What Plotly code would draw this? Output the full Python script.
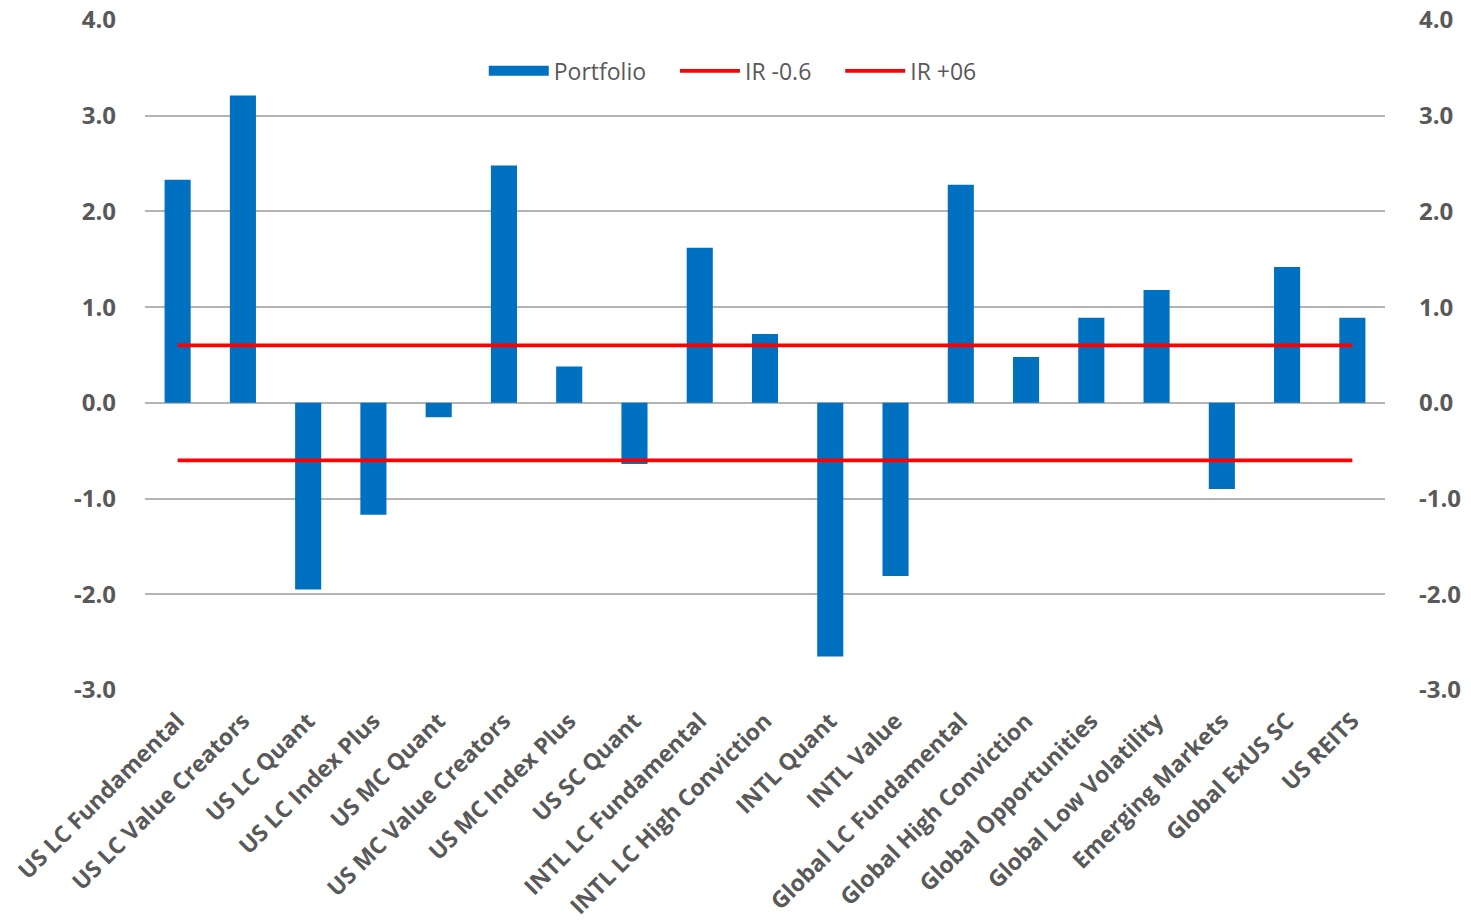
import plotly.graph_objects as go

categories = ["US LC Fundamental", "US LC Value Creators", "US LC Quant", "US LC Index Plus",
              "US MC Quant", "US MC Value Creators", "US MC Index Plus", "US SC Quant",
              "INTL LC Fundamental", "INTL LC High Conviction", "INTL Quant", "INTL Value",
              "Global LC Fundamental", "Global High Conviction", "Global Opportunities",
              "Global Low Volatility", "Emerging Markets", "Global ExUS SC", "US REITS"]
portfolio = [2.33, 3.21, -1.95, -1.17, -0.15, 2.48, 0.38, -0.64, 1.62, 0.72,
             -2.65, -1.81, 2.28, 0.48, 0.89, 1.18, -0.90, 1.42, 0.89]
ir_neg = -0.6
ir_pos = 0.6
tick_vals = [-3, -2, -1, 0, 1, 2, 3, 4]
tick_text = ["-3.0", "-2.0", "-1.0", "0.0", "1.0", "2.0", "3.0", "4.0"]

FONT = "Open Sans"
GRAY = "#595959"
BLUE = "#0070C0"
PAD = "\u00a0" * 4  # spacing between legend entries

fig = go.Figure()
fig.add_trace(go.Bar(x=categories, y=portfolio, name="Portfolio", showlegend=False,
                     legendgroup="p", marker=dict(color=BLUE, line=dict(width=0))))
# legend swatch for Portfolio (wide rectangle like the original)
fig.add_trace(go.Scatter(x=[None], y=[None], mode="lines", name="Portfolio" + PAD,
                         legendgroup="p", line=dict(color=BLUE, width=17)))
fig.add_trace(go.Scatter(x=[categories[0], categories[-1]], y=[ir_neg, ir_neg],
                         mode="lines", name="IR -0.6" + PAD,
                         line=dict(color="#FF0000", width=3.8)))
fig.add_trace(go.Scatter(x=[categories[0], categories[-1]], y=[ir_pos, ir_pos],
                         mode="lines", name="IR +06", line=dict(color="#FF0000", width=3.8)))
# invisible trace to activate right axis
fig.add_trace(go.Scatter(x=[categories[0]], y=[0], yaxis="y2", showlegend=False,
                         mode="markers", marker=dict(opacity=0), hoverinfo="skip"))

fig.update_layout(
    width=1471, height=923,
    margin=dict(l=145, r=86, t=20, b=233),
    plot_bgcolor="white", paper_bgcolor="white",
    bargap=0.6,
    font=dict(family=FONT, color=GRAY),
    showlegend=True,
    legend=dict(orientation="h", x=0.474, xanchor="center", y=0.924, yanchor="middle",
                font=dict(size=23, color=GRAY, family=FONT), bgcolor="rgba(0,0,0,0)",
                traceorder="normal", itemwidth=60),
    xaxis=dict(range=[-0.5, 18.5], automargin=False, tickangle=-45,
               tickfont=dict(size=23, color=GRAY, family=FONT, weight="bold"),
               showgrid=False, showline=False, ticks="", zeroline=False,
               ticklabelstandoff=12),
    yaxis=dict(range=[-3, 4], automargin=False, tickvals=tick_vals, ticktext=tick_text,
               tickfont=dict(size=24, color=GRAY, family=FONT, weight="bold"),
               showgrid=True, gridcolor="#B4B4B4", gridwidth=2,
               zeroline=True, zerolinecolor="#B4B4B4", zerolinewidth=2,
               showline=False, ticks="", ticklabelstandoff=28),
    yaxis2=dict(range=[-3, 4], automargin=False, tickvals=tick_vals, ticktext=tick_text,
                overlaying="y", side="right",
                tickfont=dict(size=24, color=GRAY, family=FONT, weight="bold"),
                showgrid=False, zeroline=False, showline=False, ticks="",
                ticklabelstandoff=33),
)

fig.write_html("out.html")
